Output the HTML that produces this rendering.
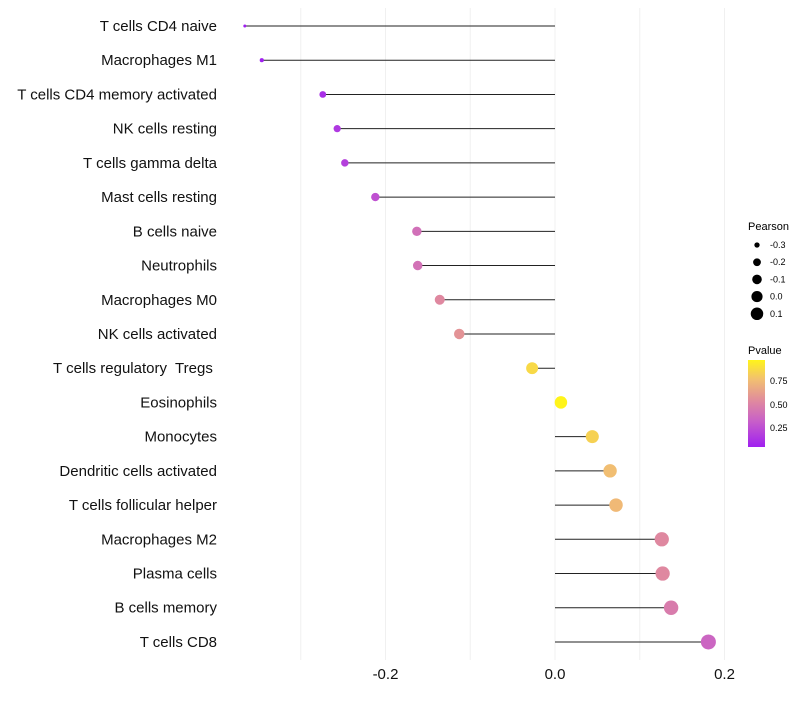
<!DOCTYPE html>
<html><head><meta charset="utf-8"><style>
body{margin:0;background:#fff;font-family:"Liberation Sans",sans-serif}
svg text{font-family:"Liberation Sans",sans-serif}
</style></head><body>
<svg width="800" height="700">
<defs><linearGradient id="pg" x1="0" y1="1" x2="0" y2="0">
<stop offset="0" stop-color="#a020f0"/><stop offset="0.3" stop-color="#c860c8"/><stop offset="0.52" stop-color="#df88a0"/><stop offset="0.78" stop-color="#f2c070"/><stop offset="1" stop-color="#fff41a"/></linearGradient></defs>
<g id="grid"></g>
<g id="marks"></g>
<g id="labels"></g>
<g id="xt"></g>
<g id="lp">
<text x="748" y="230" font-size="11" fill="#000">Pearson</text></g>
<g>
<text x="748" y="354" font-size="11" fill="#000">Pvalue</text>
<rect x="748" y="360" width="17" height="87" fill="url(#pg)"/>
<text x="770" y="384" font-size="9">0.75</text>
<text x="770" y="408" font-size="9">0.50</text>
<text x="770" y="431" font-size="9">0.25</text>
</g>
</svg>
<script>
const categories=["T cells CD4 naive","Macrophages M1","T cells CD4 memory activated","NK cells resting","T cells gamma delta","Mast cells resting","B cells naive","Neutrophils","Macrophages M0","NK cells activated","T cells regulatory  Tregs ","Eosinophils","Monocytes","Dendritic cells activated","T cells follicular helper","Macrophages M2","Plasma cells","B cells memory","T cells CD8"];
const pearson=[-0.366,-0.346,-0.274,-0.257,-0.248,-0.212,-0.163,-0.162,-0.136,-0.113,-0.027,0.007,0.044,0.065,0.072,0.126,0.127,0.137,0.181];
const pvalue=[0.02,0.04,0.1,0.14,0.17,0.24,0.38,0.39,0.5,0.55,0.85,0.96,0.82,0.74,0.72,0.5,0.5,0.44,0.33];
const xTicks=[-0.2,0.0,0.2];
const gridTicks=[-0.3,-0.2,-0.1,0.1,0.2];
const legendVals=[-0.3,-0.2,-0.1,0.0,0.1];
const NS="http://www.w3.org/2000/svg";
const xs=v=>555+v*847.5;
const ys=i=>26+i*34.22;
const rs=v=>Math.sqrt(2.25+98.7*Math.max(0,v+0.366));
const stops=[[0.04,[160,32,240]],[0.3,[200,96,200]],[0.5,[223,136,160]],[0.75,[242,192,112]],[0.96,[255,244,26]]];
function col(p){if(p<=stops[0][0])return`rgb(${stops[0][1]})`;for(let k=1;k<stops.length;k++){if(p<=stops[k][0]){const a=stops[k-1],b=stops[k],t=(p-a[0])/(b[0]-a[0]);return`rgb(${a[1].map((c,j)=>Math.round(c+(b[1][j]-c)*t))})`;}}return`rgb(${stops[4][1]})`;}
function mk(t,a,p){const e=document.createElementNS(NS,t);for(const k in a)e.setAttribute(k,a[k]);p.appendChild(e);return e;}
const G=document.getElementById('grid'),M=document.getElementById('marks'),L=document.getElementById('labels'),X=document.getElementById('xt'),LP=document.getElementById('lp');
gridTicks.forEach(v=>{const l=mk('line',{x1:xs(v),x2:xs(v),y1:8,y2:660,stroke:'#f0f0f0','stroke-width':1},G);

});
mk('line',{x1:xs(0),x2:xs(0),y1:8,y2:660,stroke:'#f0f0f0','stroke-width':1},G);
categories.forEach((c,i)=>{const y=ys(i);
const ln=mk('line',{x1:xs(0),x2:xs(pearson[i]),y1:y,y2:y,stroke:'#222','stroke-width':1},M);


const pt=mk('circle',{cx:xs(pearson[i]),cy:y,r:rs(pearson[i]),fill:col(pvalue[i])},M);


const t=mk('text',{x:217,y:y+5,'text-anchor':'end','font-size':15,fill:'#111'},L);t.setAttribute('xml:space','preserve');t.style.whiteSpace='pre';t.textContent=c;

});
xTicks.forEach(v=>{const t=mk('text',{x:xs(v),y:679,'text-anchor':'middle','font-size':15,fill:'#111'},X);t.textContent=v.toFixed(1);

});
legendVals.forEach((v,i)=>{const y=245+i*17.2;
const c=mk('circle',{cx:757,cy:y,r:rs(v)*0.9,fill:'#000'},LP);


const t=mk('text',{x:770,y:y+3,'font-size':9},LP);t.textContent=v.toFixed(1);

});
</script>
</body></html>
